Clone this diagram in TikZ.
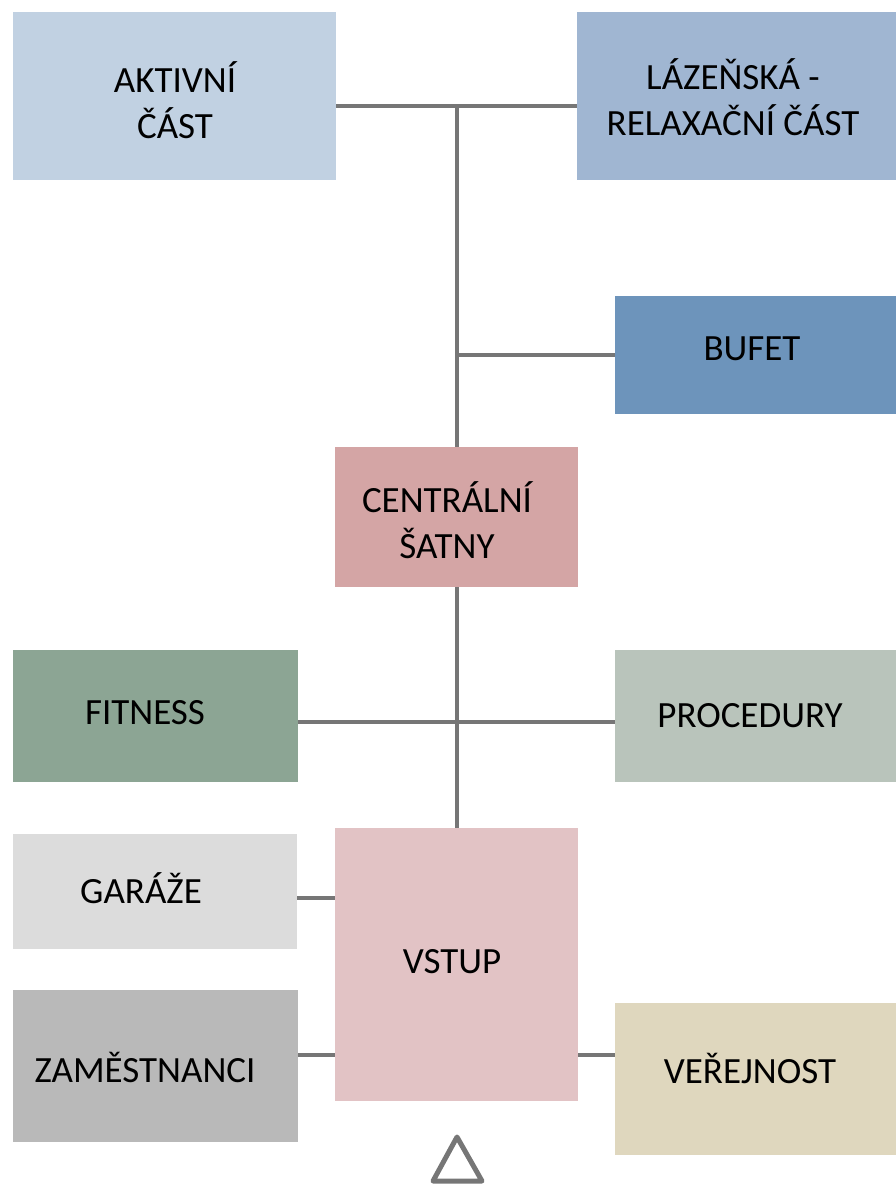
\documentclass[tikz,border=0pt]{standalone}
\usepackage{fontspec}
\setmainfont{Carlito}
\definecolor{cakt}{HTML}{C1D1E2}
\definecolor{claz}{HTML}{A0B6D2}
\definecolor{cbuf}{HTML}{6D94BB}
\definecolor{ccen}{HTML}{D4A5A5}
\definecolor{cfit}{HTML}{8CA594}
\definecolor{cpro}{HTML}{B9C4BB}
\definecolor{cgar}{HTML}{DCDCDC}
\definecolor{czam}{HTML}{B9B9B9}
\definecolor{cvst}{HTML}{E2C3C5}
\definecolor{cver}{HTML}{DFD7BE}
\definecolor{cline}{HTML}{767676}
\begin{document}
\begin{tikzpicture}[x=1pt,y=-1pt,
  box/.style={draw=none,rectangle,inner sep=0pt,outer sep=0pt},
  lbl/.style={align=center,font=\fontsize{37}{46}\selectfont,inner sep=0pt},
  conn/.style={draw=cline,line width=4pt}]
\useasboundingbox (0,0) rectangle (896,1187);
% boxes
\node[box,fill=cakt,minimum width=323pt,minimum height=168pt] (akt) at (174.5,96) {};
\node[box,fill=claz,minimum width=319pt,minimum height=168pt] (laz) at (736.5,96) {};
\node[box,fill=cbuf,minimum width=281pt,minimum height=118pt] (buf) at (755.5,355) {};
\node[box,fill=ccen,minimum width=243pt,minimum height=140pt] (cen) at (456.5,517) {};
\node[box,fill=cfit,minimum width=285pt,minimum height=132pt] (fit) at (155.5,716) {};
\node[box,fill=cpro,minimum width=281pt,minimum height=132pt] (pro) at (755.5,716) {};
\node[box,fill=cvst,minimum width=243pt,minimum height=273pt] (vst) at (456.5,964.5) {};
\node[box,fill=cgar,minimum width=284pt,minimum height=115pt] (gar) at (155,891.5) {};
\node[box,fill=czam,minimum width=285pt,minimum height=152pt] (zam) at (155.5,1066) {};
\node[box,fill=cver,minimum width=281pt,minimum height=152pt] (ver) at (755.5,1079) {};
% labels
\node[lbl] (takt) at (175,100) {AKTIVNÍ\\ČÁST};
\node[lbl] (tlaz) at (733,97) {LÁZEŇSKÁ -\\RELAXAČNÍ ČÁST};
\node[lbl] (tbuf) at (752,349) {BUFET};
\node[lbl] (tcen) at (447,520) {CENTRÁLNÍ\\ŠATNY};
\node[lbl] (tfit) at (145,713) {FITNESS};
\node[lbl] (tpro) at (750,716) {PROCEDURY};
\node[lbl] (tgar) at (141,888) {GARÁŽE};
\node[lbl] (tzam) at (145,1067) {ZAMĚSTNANCI};
\node[lbl] (tvst) at (452,962) {VSTUP};
\node[lbl] (tver) at (750,1068) {VEŘEJNOST};
% junction coordinates
\coordinate (j1) at (457,106);
\coordinate (j2) at (457,355);
\coordinate (j3) at (457,722);
% connectors
\draw[conn] (akt.east |- j1) -- (laz.west |- j1);
\draw[conn] (j1) -- (j1 |- cen.north);
\draw[conn] (j2) -- (buf.west |- j2);
\draw[conn] (j1 |- cen.south) -- (j1 |- vst.north);
\draw[conn] (fit.east |- j3) -- (pro.west |- j3);
\draw[conn] (gar.east |- 0,898) -- (vst.west |- 0,898);
\draw[conn] (zam.east |- 0,1055) -- (vst.west |- 0,1055);
\draw[conn] (vst.east |- 0,1055) -- (ver.west |- 0,1055);
% entrance triangle
\coordinate (ta) at (457,1137);
\coordinate (tb) at (433,1181);
\coordinate (tc) at (482,1181);
\draw[draw=cline,line width=5pt,line join=round] (ta) -- (tb) -- (tc) -- cycle;
\end{tikzpicture}
\end{document}
